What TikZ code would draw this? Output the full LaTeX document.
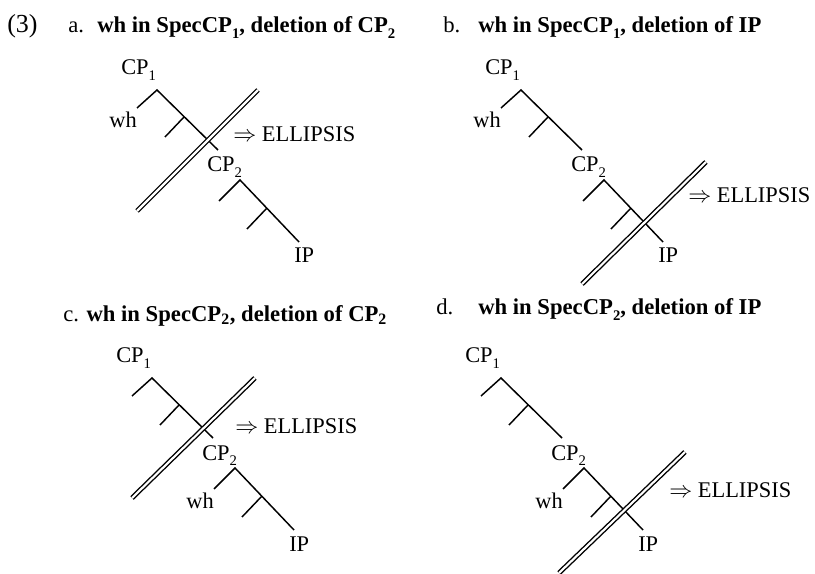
\documentclass[tikz,border=0pt]{standalone}
\usepackage{fontspec}
\setmainfont{Liberation Serif}
\usetikzlibrary{positioning}
\newcommand{\low}[1]{\raisebox{-0.55ex}{\fontsize{11}{12}\selectfont #1}}

\begin{document}
\begin{tikzpicture}[x=0.75pt,y=-0.75pt,
    branch/.style={line width=1.1pt},
    cut/.style={double,double distance=1.6pt,line width=1.05pt},
    cat/.style={inner sep=0pt,anchor=base west,font=\fontsize{16.8}{20}\selectfont},
    head/.style={inner sep=0pt,anchor=base west,font=\fontsize{17}{20}\selectfont},
    title/.style={head,font=\fontsize{17}{20}\selectfont\bfseries}
]
\useasboundingbox (0,0) rectangle (815,574);

% headings
\node[head,font=\fontsize{19.5}{22}\selectfont] (ex) at (7,33) {(3)};
\node[head] (a-lbl) at (68,33) {a.};
\node[title] (a-title) at (97,33) {wh in SpecCP\low{1}, deletion of CP\low{2}};
\node[head] (b-lbl) at (443,33) {b.};
\node[title] (b-title) at (478,33) {wh in SpecCP\low{1}, deletion of IP};
\node[head] (c-title) at (63,321) {c. \textbf{wh in SpecCP\textsubscript{2}, deletion of CP\textsubscript{2}}};
\node[head] (d-lbl) at (436,315) {d.};
\node[title] (d-title) at (478,315) {wh in SpecCP\low{2}, deletion of IP};

% the four trees
\foreach \p/\x/\y in {a/157/90,b/521/90,c/152/378,d/501/378}{
  \begin{scope}[shift={(\x,\y)}]
    \coordinate (\p-top1) at (0,0);
    \coordinate (\p-spec1) at (-20,18);
    \coordinate (\p-bar1) at (27,27);
    \coordinate (\p-head1) at (8,47);
    \coordinate (\p-end1) at (61,60);
    \coordinate (\p-top2) at (83,90);
    \coordinate (\p-spec2) at (62,111);
    \coordinate (\p-bar2) at (110,118);
    \coordinate (\p-head2) at (90,139);
    \coordinate (\p-end2) at (142,152);
    \node[cat] (\p-cp1) at (-36,-15) {CP\low{1}};
    \node[cat] (\p-cp2) at (50,82) {CP\low{2}};
    \node[cat] (\p-ip) at (137,173) {IP};
    \draw[branch] (\p-spec1) -- (\p-top1) -- (\p-end1);
    \draw[branch] (\p-bar1) -- (\p-head1);
    \draw[branch] (\p-spec2) -- (\p-top2) -- (\p-end2);
    \draw[branch] (\p-bar2) -- (\p-head2);
  \end{scope}
}

% wh positions
\node[cat,anchor=north east,yshift=-3pt] (a-wh) at (a-spec1) {wh};
\node[cat,anchor=north east,yshift=-3pt] (b-wh) at (b-spec1) {wh};
\node[cat,anchor=north east,yshift=-3pt] (c-wh) at (c-spec2) {wh};
\node[cat,anchor=north east,yshift=-3pt] (d-wh) at (d-spec2) {wh};

% deletion cuts
\coordinate (a-cutl) at (137,211);
\coordinate (a-cutr) at (258,90);
\coordinate (b-cutl) at (582,284);
\coordinate (b-cutr) at (706,162);
\coordinate (c-cutl) at (132,498);
\coordinate (c-cutr) at (255,378);
\coordinate (d-cutl) at (559,573);
\coordinate (d-cutr) at (685,452);
\foreach \p in {a,b,c,d}
  \draw[cut] (\p-cutl) -- (\p-cutr);

\node[cat] (a-ell) at (233,142) {$\Rightarrow$ ELLIPSIS};
\node[cat] (b-ell) at (688,203) {$\Rightarrow$ ELLIPSIS};
\node[cat] (c-ell) at (235,433) {$\Rightarrow$ ELLIPSIS};
\node[cat] (d-ell) at (669,497) {$\Rightarrow$ ELLIPSIS};
\end{tikzpicture}
\end{document}
